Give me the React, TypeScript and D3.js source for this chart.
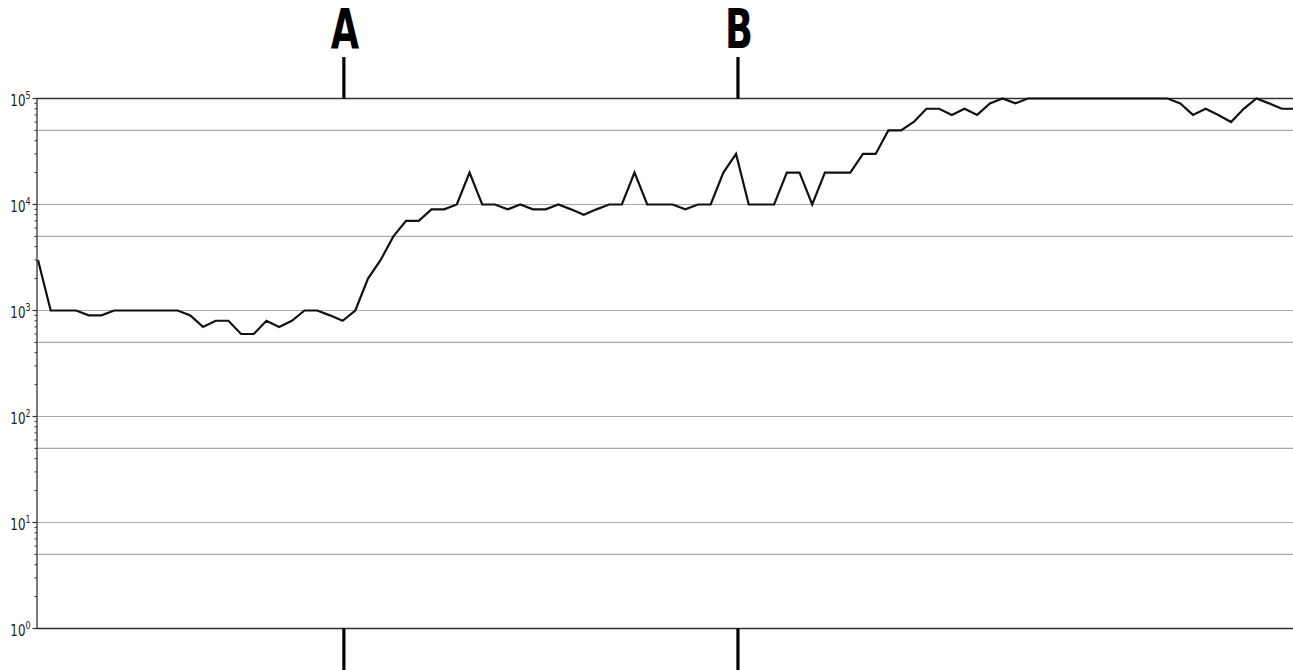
import React from "react";
import * as d3 from "d3";

const values: number[] = [
  3000, 1000, 1000, 1000, 900, 900, 1000, 1000, 1000, 1000,
  1000, 1000, 900, 700, 800, 800, 600, 600, 800, 700,
  800, 1000, 1000, 900, 800, 1000, 2000, 3000, 5000, 7000,
  7000, 9000, 9000, 10000, 20000, 10000, 10000, 9000, 10000, 9000,
  9000, 10000, 9000, 8000, 9000, 10000, 10000, 20000, 10000, 10000,
  10000, 9000, 10000, 10000, 20000, 30000, 10000, 10000, 10000, 20000,
  20000, 10000, 20000, 20000, 20000, 30000, 30000, 50000, 50000, 60000,
  80000, 80000, 70000, 80000, 70000, 90000, 100000, 90000, 100000, 100000,
  100000, 100000, 100000, 100000, 100000, 100000, 100000, 100000, 100000, 100000,
  90000, 70000, 80000, 70000, 60000, 80000, 100000, 90000, 80000, 80000,
];

const markerLabels = ["A", "B"];
const markerIndex = [24.1, 55.15];

const majorExponents = [0, 1, 2, 3, 4, 5];
const gridValues = [5, 10, 50, 100, 500, 1000, 5000, 10000, 50000];

const W = 1293;
const H = 670;
const left = 37;
const top = 98.5;
const bottom = 628.5;

export default function App() {
  const x = d3.scaleLinear().domain([0, values.length - 1]).range([38, 1294.5]);
  const y = d3.scaleLog().domain([1, 100000]).range([bottom, top]);

  const line = d3
    .line<number>()
    .x((_, i) => x(i))
    .y((d) => y(d));

  const minor: number[] = [];
  for (let e = 0; e < 5; e++) {
    for (let m = 2; m <= 9; m++) minor.push(m * Math.pow(10, e));
  }

  const labelFont = "'DejaVu Sans Condensed', 'DejaVu Sans', sans-serif";

  return (
    <svg
      width={W}
      height={H}
      style={{ position: "absolute", left: 0, top: 0, background: "#fff" }}
    >
      <defs>
        <clipPath id="plot">
          <rect x={left} y={0} width={W - left} height={H} />
        </clipPath>
      </defs>
      {gridValues.map((v) => (
        <line
          key={"g" + v}
          x1={left}
          x2={W}
          y1={y(v)}
          y2={y(v)}
          stroke="#aaaaaa"
          strokeWidth={1.2}
        />
      ))}
      {/* spines */}
      <line x1={left} x2={W} y1={top} y2={top} stroke="#333" strokeWidth={1.5} />
      <line x1={left} x2={W} y1={bottom} y2={bottom} stroke="#333" strokeWidth={1.5} />
      <line x1={left} x2={left} y1={top} y2={bottom} stroke="#333" strokeWidth={1.3} />
      {/* ticks */}
      {majorExponents.map((e) => (
        <line
          key={"M" + e}
          x1={left - 4.5}
          x2={left}
          y1={y(Math.pow(10, e))}
          y2={y(Math.pow(10, e))}
          stroke="#333"
          strokeWidth={1.2}
        />
      ))}
      {minor.map((v) => (
        <line
          key={"m" + v}
          x1={left - 2.5}
          x2={left}
          y1={y(v)}
          y2={y(v)}
          stroke="#333"
          strokeWidth={1}
        />
      ))}
      {majorExponents.map((e) => (
        <g key={"t" + e} transform={`translate(30.5,${y(Math.pow(10, e)) + 7}) scale(0.8,1)`}>
          <text
            x={0}
            y={0}
            textAnchor="end"
            fontFamily={labelFont}
            fontSize={16.5}
            fill="#222"
          >
            10
            <tspan dy={-7} fontSize={11}>
              {e}
            </tspan>
          </text>
        </g>
      ))}
      {/* data line */}
      <path
        d={line(values) || ""}
        fill="none"
        stroke="#111"
        strokeWidth={2.2}
        strokeLinejoin="miter"
        clipPath="url(#plot)"
      />
      {/* markers */}
      {markerIndex.map((mi, k) => (
        <g key={"mk" + k}>
          <line x1={x(mi)} x2={x(mi)} y1={57} y2={top} stroke="#000" strokeWidth={3.2} />
          <line x1={x(mi)} x2={x(mi)} y1={bottom} y2={H} stroke="#000" strokeWidth={3.2} />
          <g transform={`translate(${x(mi) + 1},48) scale(0.74,1)`}>
            <text
              x={0}
              y={0}
              textAnchor="middle"
              fontFamily={labelFont}
              fontWeight="bold"
              fontSize={55}
              fill="#000"
            >
              {markerLabels[k]}
            </text>
          </g>
        </g>
      ))}
    </svg>
  );
}
